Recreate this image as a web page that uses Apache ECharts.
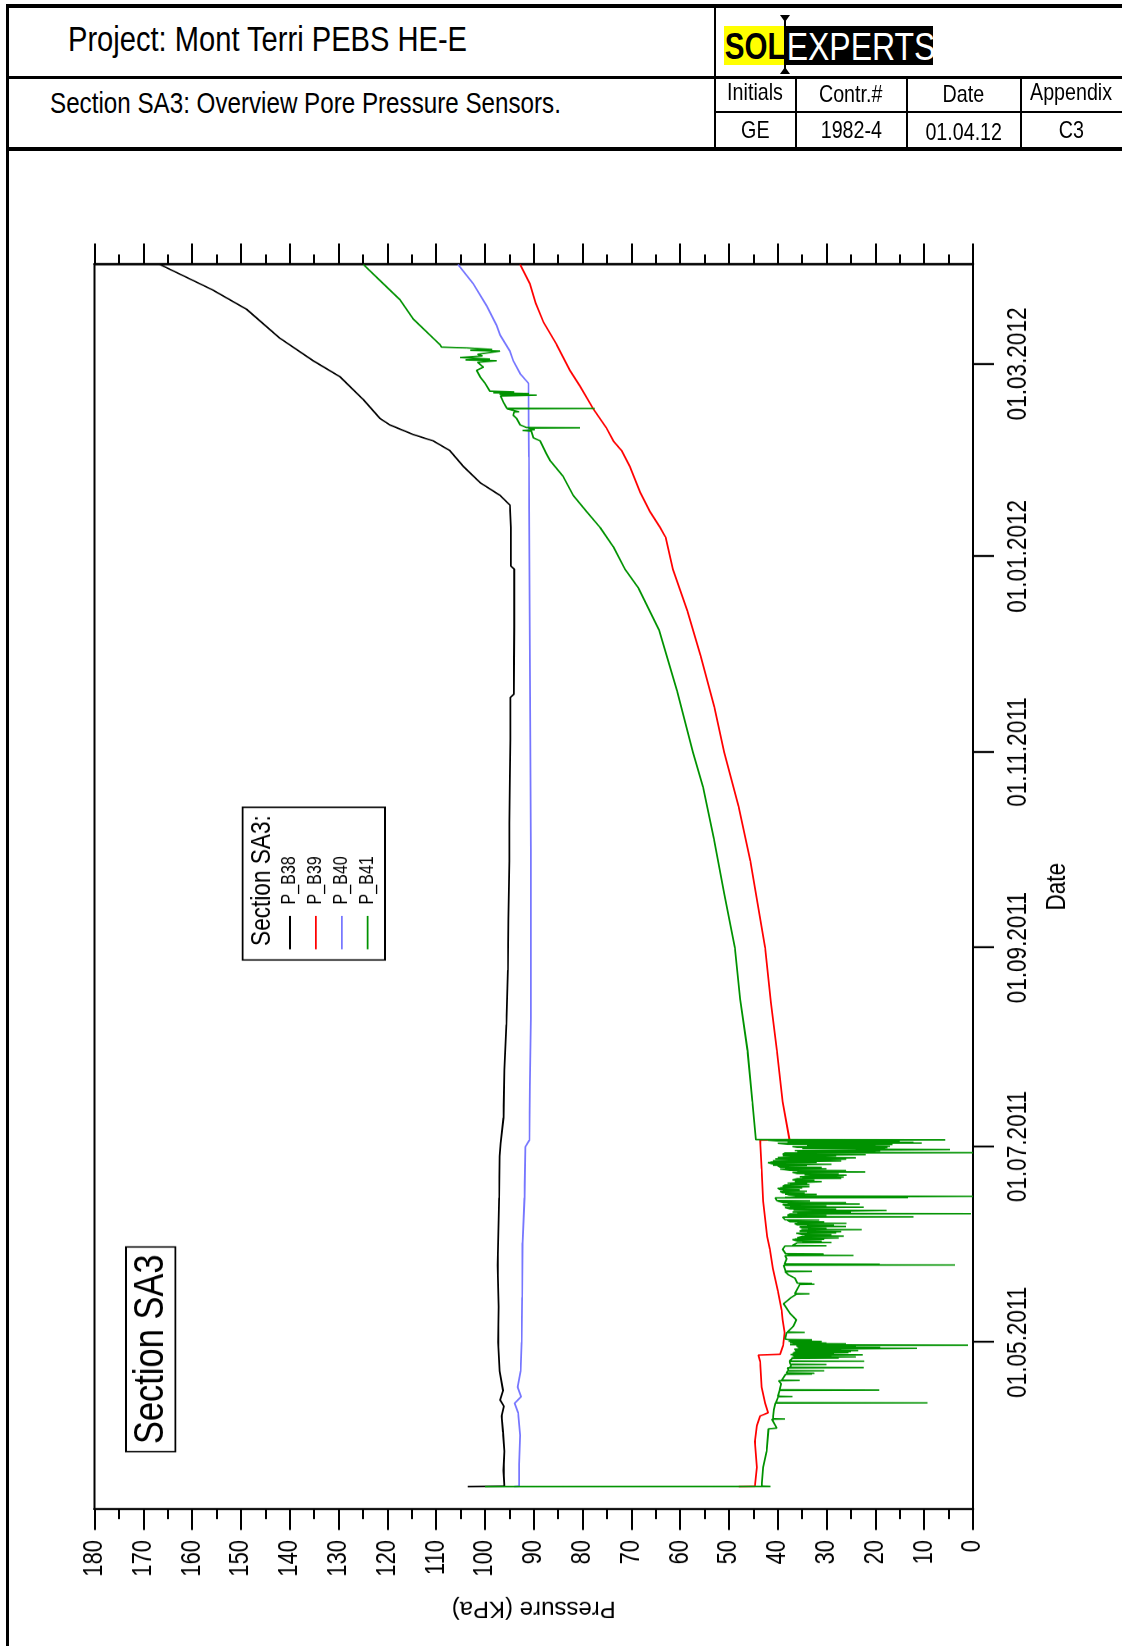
<!DOCTYPE html>
<html>
<head>
<meta charset="utf-8">
<title>Section SA3: Overview Pore Pressure Sensors</title>
<script src="https://cdn.jsdelivr.net/npm/echarts@6/dist/echarts.min.js"></script>
<style>
  html, body { margin: 0; padding: 0; width: 1122px; height: 1646px; overflow: hidden; background: #fff; }
  .hd { position: absolute; font-family: "Liberation Sans", Arial, sans-serif; color: #000; white-space: nowrap; }
  .nar { display: inline-block; transform: scaleX(0.82); transform-origin: 0 50%; }
  .ln { position: absolute; background: #000; }
  .cell { position: absolute; text-align: center; font-size: 24px; line-height: 30px; }
  .cell .nar { transform-origin: 50% 50%; }
  /* the plot is laid out landscape, squeezed along its date direction and turned onto the sheet */
  #chart { position: absolute; left: 0; top: 1646px; width: 1824px; height: 1122px;
           transform-origin: 0 0; transform: rotate(-90deg) scaleX(0.82018); }
  .logo { position: absolute; top: 26px; height: 39px; overflow: hidden; }
</style>
</head>
<body>
<div id="chart"></div>

<!-- title block -->
<div class="ln" style="left:6px;top:4px;width:1116px;height:4px"></div>
<div class="ln" style="left:6px;top:4px;width:3px;height:1642px"></div>
<div class="ln" style="left:6px;top:76px;width:1116px;height:2.5px"></div>
<div class="ln" style="left:714px;top:4px;width:2px;height:146px"></div>
<div class="ln" style="left:714px;top:111px;width:408px;height:1.5px"></div>
<div class="ln" style="left:795px;top:77px;width:1.5px;height:71px"></div>
<div class="ln" style="left:906px;top:77px;width:1.5px;height:71px"></div>
<div class="ln" style="left:1020px;top:77px;width:1.5px;height:71px"></div>
<div class="ln" style="left:6px;top:147px;width:1116px;height:4px"></div>

<div class="hd" style="left:68px;top:19px;font-size:35.5px;line-height:40px"><span class="nar">Project: Mont Terri PEBS HE-E</span></div>
<div class="hd" style="left:50px;top:86px;font-size:29.5px;line-height:34px"><span class="nar">Section SA3: Overview Pore Pressure Sensors.</span></div>

<div class="hd logo" style="left:724px;width:61px;background:#ffff00;font-weight:bold;font-size:36px;line-height:41px"><span class="nar" style="padding-left:1px">SOL</span></div>
<div class="hd logo" style="left:785px;width:148px;background:#000;color:#fff;font-size:39px;line-height:41px"><span class="nar" style="padding-left:2px">EXPERTS</span></div>
<div class="ln" style="left:784px;top:17px;width:2px;height:55px"></div>
<div style="position:absolute;left:780px;top:15px;width:0;height:0;border-left:5px solid transparent;border-right:5px solid transparent;border-top:7px solid #000"></div>
<div style="position:absolute;left:780px;top:67px;width:0;height:0;border-left:5px solid transparent;border-right:5px solid transparent;border-bottom:7px solid #000"></div>

<div class="hd cell" style="left:716px;width:79px;top:77px"><span class="nar">Initials</span></div>
<div class="hd cell" style="left:796px;width:110px;top:79px"><span class="nar">Contr.#</span></div>
<div class="hd cell" style="left:907px;width:113px;top:79px"><span class="nar">Date</span></div>
<div class="hd cell" style="left:1021px;width:101px;top:77px"><span class="nar">Appendix</span></div>
<div class="hd cell" style="left:716px;width:79px;top:115px"><span class="nar">GE</span></div>
<div class="hd cell" style="left:796px;width:110px;top:115px"><span class="nar">1982-4</span></div>
<div class="hd cell" style="left:907px;width:113px;top:117px"><span class="nar">01.04.12</span></div>
<div class="hd cell" style="left:1021px;width:101px;top:115px"><span class="nar">C3</span></div>

<script>
// Date axis tick positions (first day of every second month)
const dateTicks = ['2011-05-01', '2011-07-01', '2011-09-01', '2011-11-01', '2012-01-01', '2012-03-01'];
const dateRange = ['2011-03-10', '2012-04-01'];
const pressureRange = [0, 180];

const seriesNames = ['P_B38', 'P_B39', 'P_B40', 'P_B41'];
const seriesColors = ['#000000', '#ff0000', '#7777ff', '#009200'];

// P_B38 pore pressure [date, kPa]
const pB38 = [
  ['2011-03-17 00:00', 103.5], ['2011-03-17 03:00', 96.0], ['2011-03-22', 96.2], ['2011-03-28', 96.0],
  ['2011-04-03', 96.3], ['2011-04-08', 96.6], ['2011-04-11', 96.1], ['2011-04-13', 96.9],
  ['2011-04-16', 96.3], ['2011-04-22', 97.0], ['2011-05-01', 97.3], ['2011-05-12', 97.2],
  ['2011-05-25', 97.4], ['2011-06-01', 97.3], ['2011-06-15', 97.1], ['2011-06-28', 97.0],
  ['2011-07-02', 96.8], ['2011-07-10', 96.2], ['2011-07-25', 96.0], ['2011-08-08', 95.6],
  ['2011-08-25', 95.3], ['2011-09-10', 95.2], ['2011-09-28', 95.0], ['2011-10-10', 95.0],
  ['2011-10-24', 94.9], ['2011-11-05', 94.8], ['2011-11-18', 94.8], ['2011-11-19', 94.1],
  ['2011-12-10', 94.0], ['2011-12-28', 94.0], ['2011-12-29', 94.7], ['2012-01-10', 94.7],
  ['2012-01-17', 94.9], ['2012-01-20', 96.9], ['2012-01-24', 101.0], ['2012-01-29', 104.4],
  ['2012-02-03', 107.2], ['2012-02-06', 110.6], ['2012-02-08', 114.7], ['2012-02-11', 119.5],
  ['2012-02-13', 121.5], ['2012-02-19', 125.0], ['2012-02-26', 129.7], ['2012-03-02', 135.2],
  ['2012-03-09', 142.0], ['2012-03-18', 148.8], ['2012-03-24', 155.7], ['2012-03-29', 162.5],
  ['2012-04-01', 166.6]
];

// P_B39 pore pressure [date, kPa]
const pB39 = [
  ['2011-03-17 00:00', 48.0], ['2011-03-17 02:00', 44.7], ['2011-03-23', 44.3], ['2011-03-31', 44.7],
  ['2011-04-05', 44.3], ['2011-04-08', 43.6], ['2011-04-09', 42.0], ['2011-04-12', 42.6],
  ['2011-04-17', 43.3], ['2011-04-25', 43.6], ['2011-04-27 00:00', 44.0], ['2011-04-27 06:00', 39.5],
  ['2011-04-30', 38.9], ['2011-05-04', 38.6], ['2011-05-08', 39.0], ['2011-05-11', 39.2],
  ['2011-05-17', 40.0], ['2011-05-24', 41.0], ['2011-05-30', 41.6], ['2011-06-03', 42.2],
  ['2011-06-14', 43.0], ['2011-06-24', 43.3], ['2011-07-03 00:00', 43.6], ['2011-07-03 03:00', 37.6],
  ['2011-07-15', 39.0], ['2011-07-31', 40.2], ['2011-08-15', 41.4], ['2011-09-01', 42.6],
  ['2011-09-28', 45.6], ['2011-10-15', 48.0], ['2011-11-01', 51.0], ['2011-11-15', 53.0],
  ['2011-12-01', 55.8], ['2011-12-15', 58.5], ['2011-12-28', 61.5], ['2012-01-07', 63.0],
  ['2012-01-10', 64.1], ['2012-01-15', 66.2], ['2012-01-21', 68.2], ['2012-01-29', 70.3],
  ['2012-02-03', 72.0], ['2012-02-06', 73.7], ['2012-02-10', 75.1], ['2012-02-16', 77.8],
  ['2012-02-23', 80.5], ['2012-02-28', 82.6], ['2012-03-07', 85.3], ['2012-03-14', 88.0],
  ['2012-03-20', 89.6], ['2012-03-26', 90.8], ['2012-04-01', 92.8]
];

// P_B40 pore pressure [date, kPa]
const pB40 = [
  ['2011-03-17 00:00', 94.0], ['2011-03-17 03:00', 93.0], ['2011-03-24', 93.0], ['2011-04-02', 92.8],
  ['2011-04-09', 93.2], ['2011-04-12', 93.9], ['2011-04-14', 92.6], ['2011-04-17', 93.3],
  ['2011-04-22', 92.7], ['2011-05-01', 92.5], ['2011-05-15', 92.4], ['2011-06-01', 92.3],
  ['2011-06-15', 91.9], ['2011-07-01', 91.7], ['2011-07-03', 90.9], ['2011-07-20', 90.8],
  ['2011-08-10', 90.6], ['2011-09-01', 90.6], ['2011-10-01', 90.6], ['2011-11-01', 90.7],
  ['2011-12-01', 90.8], ['2012-01-01', 90.9], ['2012-02-01', 91.0], ['2012-02-24', 91.1],
  ['2012-02-27', 92.8], ['2012-03-02', 94.2], ['2012-03-05', 94.9], ['2012-03-10', 96.9],
  ['2012-03-13', 97.6], ['2012-03-19', 99.6], ['2012-03-26', 102.4], ['2012-04-01', 105.5]
];

// P_B41 pore pressure [date, kPa]; short-lived drops show up as horizontal strokes
const pB41 = [
  ['2011-03-17 00:00', 100.0], ['2011-03-17 01:00', 41.5], ['2011-03-17 03:00', 43.3], ['2011-03-23', 43.0],
  ['2011-03-28', 42.3], ['2011-04-04 00:00', 41.9], ['2011-04-04 06:00', 40.2], ['2011-04-07 00:00', 41.2],
  ['2011-04-07 02:00', 38.5], ['2011-04-07 04:00', 41.0], ['2011-04-10', 40.8], ['2011-04-12 00:00', 40.5],
  ['2011-04-12 02:00', 9.3], ['2011-04-12 04:00', 40.4], ['2011-04-14 00:00', 39.9], ['2011-04-14 02:00', 37.0],
  ['2011-04-14 04:00', 40.0], ['2011-04-16 00:00', 39.6], ['2011-04-16 02:00', 19.2], ['2011-04-16 04:00', 39.6],
  ['2011-04-18', 39.3], ['2011-04-19 00:00', 39.8], ['2011-04-19 02:00', 35.5], ['2011-04-19 04:00', 39.2],
  ['2011-04-21 00:00', 38.4], ['2011-04-21 02:00', 33.0], ['2011-04-21 04:00', 38.0], ['2011-04-21 08:00', 32.5],
  ['2011-04-21 10:00', 38.2], ['2011-04-22 00:00', 38.0], ['2011-04-22 02:00', 30.5], ['2011-04-22 04:00', 37.8],
  ['2011-04-23 00:00', 38.0], ['2011-04-23 02:00', 22.4], ['2011-04-23 04:00', 37.5], ['2011-04-24 00:00', 37.2],
  ['2011-04-24 02:00', 30.0], ['2011-04-24 04:00', 37.4], ['2011-04-25 00:00', 37.6], ['2011-04-25 02:00', 22.3],
  ['2011-04-25 04:00', 37.6],
  ['2011-04-26 00:00', 37.0], ['2011-04-26 02:00', 27.5], ['2011-04-26 04:00', 37.2], ['2011-04-26 10:00', 24.0],
  ['2011-04-26 12:00', 36.8], ['2011-04-26 18:00', 29.0], ['2011-04-26 20:00', 37.0],
  ['2011-04-27 00:00', 37.3], ['2011-04-27 02:00', 22.6], ['2011-04-27 04:00', 37.4], ['2011-04-27 10:00', 28.5],
  ['2011-04-27 12:00', 37.0], ['2011-04-27 18:00', 25.5], ['2011-04-27 20:00', 36.8],
  ['2011-04-28 00:00', 36.8], ['2011-04-28 02:00', 25.0], ['2011-04-28 04:00', 36.4], ['2011-04-28 10:00', 23.5],
  ['2011-04-28 12:00', 36.5], ['2011-04-28 18:00', 27.0], ['2011-04-28 20:00', 36.6],
  ['2011-04-29 00:00', 36.5], ['2011-04-29 02:00', 11.5], ['2011-04-29 04:00', 35.8], ['2011-04-29 10:00', 19.0],
  ['2011-04-29 12:00', 36.0], ['2011-04-29 18:00', 24.0], ['2011-04-29 20:00', 36.2],
  ['2011-04-30 00:00', 35.5], ['2011-04-30 02:00', 1.0], ['2011-04-30 04:00', 27.0], ['2011-04-30 06:00', 37.5],
  ['2011-04-30 12:00', 26.0], ['2011-04-30 14:00', 37.0], ['2011-04-30 18:00', 30.0], ['2011-04-30 20:00', 37.5],
  ['2011-05-01 06:00', 31.0], ['2011-05-01 08:00', 37.8], ['2011-05-01 18:00', 33.0], ['2011-05-01 20:00', 38.0],
  ['2011-05-02', 38.5],
  ['2011-05-04 00:00', 38.2], ['2011-05-04 02:00', 34.5], ['2011-05-04 04:00', 38.0], ['2011-05-06', 36.8],
  ['2011-05-08', 36.2], ['2011-05-10', 37.5], ['2011-05-13', 38.8], ['2011-05-15', 37.2],
  ['2011-05-16 00:00', 36.2], ['2011-05-16 02:00', 33.5], ['2011-05-16 04:00', 36.5], ['2011-05-19 00:00', 35.5],
  ['2011-05-19 02:00', 32.5], ['2011-05-19 04:00', 35.0], ['2011-05-19 08:00', 33.0], ['2011-05-19 10:00', 36.0],
  ['2011-05-21', 36.5], ['2011-05-22', 37.8], ['2011-05-23 00:00', 38.5], ['2011-05-23 02:00', 33.0],
  ['2011-05-23 04:00', 38.4], ['2011-05-25 00:00', 38.8], ['2011-05-25 02:00', 3.7], ['2011-05-25 04:00', 38.5],
  ['2011-05-25 08:00', 19.1], ['2011-05-25 10:00', 38.6], ['2011-05-27', 38.2], ['2011-05-28 00:00', 38.5],
  ['2011-05-28 02:00', 24.5], ['2011-05-28 04:00', 38.0], ['2011-05-28 12:00', 30.6], ['2011-05-28 14:00', 38.4],
  ['2011-05-30', 39.0], ['2011-05-31 00:00', 38.5], ['2011-05-31 02:00', 30.0], ['2011-05-31 04:00', 37.0],
  ['2011-06-01 00:00', 36.0], ['2011-06-01 02:00', 29.0], ['2011-06-01 04:00', 35.0], ['2011-06-01 12:00', 31.0],
  ['2011-06-01 14:00', 36.0],
  ['2011-06-02 00:00', 37.0], ['2011-06-02 02:00', 30.5], ['2011-06-02 04:00', 36.5], ['2011-06-02 12:00', 27.5],
  ['2011-06-02 14:00', 36.0],
  ['2011-06-03 00:00', 35.0], ['2011-06-03 02:00', 26.5], ['2011-06-03 04:00', 34.5], ['2011-06-03 12:00', 29.0],
  ['2011-06-03 14:00', 35.0],
  ['2011-06-04 00:00', 36.2], ['2011-06-04 02:00', 28.0], ['2011-06-04 04:00', 34.0], ['2011-06-04 12:00', 27.0],
  ['2011-06-04 14:00', 35.5],
  ['2011-06-05 00:00', 35.0], ['2011-06-05 02:00', 22.8], ['2011-06-05 04:00', 33.8], ['2011-06-05 12:00', 30.0],
  ['2011-06-05 14:00', 35.0],
  ['2011-06-06 00:00', 35.5], ['2011-06-06 02:00', 26.0], ['2011-06-06 04:00', 34.0], ['2011-06-06 12:00', 28.5],
  ['2011-06-06 14:00', 36.0],
  ['2011-06-07 00:00', 36.5], ['2011-06-07 02:00', 25.9], ['2011-06-07 04:00', 36.0], ['2011-06-07 12:00', 30.5],
  ['2011-06-07 14:00', 37.5],
  ['2011-06-08 00:00', 38.0], ['2011-06-08 02:00', 31.5], ['2011-06-08 04:00', 38.5],
  ['2011-06-09 00:00', 39.0], ['2011-06-09 02:00', 12.2], ['2011-06-09 04:00', 38.0], ['2011-06-09 12:00', 30.0],
  ['2011-06-09 14:00', 38.0],
  ['2011-06-10 00:00', 37.5], ['2011-06-10 02:00', 0.4], ['2011-06-10 04:00', 36.0], ['2011-06-10 12:00', 25.0],
  ['2011-06-10 14:00', 37.0],
  ['2011-06-11 00:00', 37.0], ['2011-06-11 02:00', 17.7], ['2011-06-11 04:00', 36.8], ['2011-06-11 12:00', 28.0],
  ['2011-06-11 14:00', 37.5],
  ['2011-06-12 00:00', 38.5], ['2011-06-12 02:00', 22.4], ['2011-06-12 04:00', 37.5], ['2011-06-12 12:00', 30.0],
  ['2011-06-12 14:00', 38.5],
  ['2011-06-13 00:00', 39.0], ['2011-06-13 02:00', 23.2], ['2011-06-13 04:00', 38.0], ['2011-06-13 12:00', 26.0],
  ['2011-06-13 14:00', 39.0],
  ['2011-06-14 00:00', 40.0], ['2011-06-14 02:00', 33.4], ['2011-06-14 04:00', 40.2],
  ['2011-06-15 00:00', 40.5], ['2011-06-15 02:00', 13.3], ['2011-06-15 04:00', 38.5], ['2011-06-15 12:00', 0.0],
  ['2011-06-15 14:00', 36.0],
  ['2011-06-16 00:00', 38.0], ['2011-06-16 02:00', 32.0], ['2011-06-16 04:00', 38.5], ['2011-06-16 12:00', 34.5],
  ['2011-06-16 14:00', 39.0],
  ['2011-06-17 00:00', 39.5], ['2011-06-17 02:00', 34.0], ['2011-06-17 04:00', 39.0], ['2011-06-17 12:00', 35.5],
  ['2011-06-17 14:00', 39.5],
  ['2011-06-18 00:00', 40.0], ['2011-06-18 02:00', 35.0], ['2011-06-18 04:00', 39.5], ['2011-06-18 12:00', 33.5],
  ['2011-06-18 14:00', 39.0],
  ['2011-06-19 00:00', 38.5], ['2011-06-19 02:00', 33.5], ['2011-06-19 04:00', 37.5], ['2011-06-19 12:00', 34.0],
  ['2011-06-19 14:00', 38.0],
  ['2011-06-20 00:00', 38.0], ['2011-06-20 02:00', 31.0], ['2011-06-20 04:00', 36.5], ['2011-06-20 12:00', 32.5],
  ['2011-06-20 14:00', 37.0],
  ['2011-06-21 00:00', 36.0], ['2011-06-21 02:00', 27.0], ['2011-06-21 04:00', 35.0], ['2011-06-21 12:00', 26.5],
  ['2011-06-21 14:00', 35.5],
  ['2011-06-22 00:00', 35.5], ['2011-06-22 02:00', 25.9], ['2011-06-22 04:00', 34.5], ['2011-06-22 12:00', 27.5],
  ['2011-06-22 14:00', 36.0],
  ['2011-06-23 00:00', 37.0], ['2011-06-23 02:00', 22.1], ['2011-06-23 04:00', 36.0], ['2011-06-23 12:00', 26.0],
  ['2011-06-23 14:00', 37.5],
  ['2011-06-24 00:00', 39.5], ['2011-06-24 02:00', 30.0], ['2011-06-24 04:00', 38.5], ['2011-06-24 12:00', 31.0],
  ['2011-06-24 14:00', 39.5],
  ['2011-06-25 00:00', 40.0], ['2011-06-25 02:00', 34.0], ['2011-06-25 04:00', 41.0], ['2011-06-25 12:00', 29.0],
  ['2011-06-25 14:00', 41.0],
  ['2011-06-26 00:00', 42.0], ['2011-06-26 02:00', 32.0], ['2011-06-26 04:00', 41.5], ['2011-06-26 12:00', 27.0],
  ['2011-06-26 14:00', 41.0],
  ['2011-06-27 00:00', 41.0], ['2011-06-27 02:00', 26.0], ['2011-06-27 04:00', 40.5], ['2011-06-27 12:00', 24.0],
  ['2011-06-27 14:00', 40.0],
  ['2011-06-28 00:00', 40.0], ['2011-06-28 02:00', 28.0], ['2011-06-28 04:00', 39.0], ['2011-06-28 12:00', 22.0],
  ['2011-06-28 14:00', 39.0],
  ['2011-06-29 00:00', 38.5], ['2011-06-29 02:00', 0.0], ['2011-06-29 04:00', 30.0], ['2011-06-29 08:00', 20.0],
  ['2011-06-29 10:00', 36.0], ['2011-06-29 16:00', 19.0], ['2011-06-29 18:00', 36.5],
  ['2011-06-30 00:00', 36.5], ['2011-06-30 02:00', 4.7], ['2011-06-30 04:00', 24.0], ['2011-06-30 08:00', 18.0],
  ['2011-06-30 10:00', 35.0], ['2011-06-30 16:00', 17.5], ['2011-06-30 18:00', 36.0],
  ['2011-07-01 00:00', 37.0], ['2011-07-01 02:00', 17.0], ['2011-07-01 04:00', 30.0], ['2011-07-01 08:00', 20.0],
  ['2011-07-01 10:00', 34.0], ['2011-07-01 16:00', 16.5], ['2011-07-01 18:00', 38.0],
  ['2011-07-02 00:00', 40.0], ['2011-07-02 02:00', 10.5], ['2011-07-02 04:00', 36.0], ['2011-07-02 08:00', 12.2],
  ['2011-07-02 10:00', 38.0], ['2011-07-02 16:00', 15.0], ['2011-07-02 18:00', 40.0],
  ['2011-07-03 00:00', 42.0], ['2011-07-03 02:00', 5.7],
  ['2011-07-03 04:00', 44.5], ['2011-07-15', 45.2], ['2011-07-31', 46.2], ['2011-08-16', 47.7],
  ['2011-09-01', 48.8], ['2011-09-18', 51.0], ['2011-10-05', 53.1], ['2011-10-21', 55.3],
  ['2011-11-01', 57.4], ['2011-11-20', 60.6], ['2011-12-09', 64.3], ['2011-12-22', 68.5],
  ['2011-12-28', 71.3], ['2012-01-04', 73.7], ['2012-01-10', 76.4], ['2012-01-15', 79.2],
  ['2012-01-20', 81.9], ['2012-01-26', 84.0], ['2012-01-31', 86.7], ['2012-02-02', 87.4],
  ['2012-02-06', 88.7], ['2012-02-07', 90.1], ['2012-02-09 00:00', 90.5], ['2012-02-09 06:00', 92.3],
  ['2012-02-09 12:00', 89.8], ['2012-02-10 00:00', 91.0], ['2012-02-10 02:00', 80.5], ['2012-02-10 04:00', 91.5],
  ['2012-02-11', 92.8], ['2012-02-13', 93.5], ['2012-02-14', 94.2], ['2012-02-15 00:00', 94.0],
  ['2012-02-15 02:00', 93.0], ['2012-02-16 00:00', 95.5], ['2012-02-16 02:00', 77.5], ['2012-02-16 04:00', 95.5],
  ['2012-02-18', 96.2], ['2012-02-20 00:00', 96.8], ['2012-02-20 06:00', 89.4], ['2012-02-20 12:00', 97.0],
  ['2012-02-20 18:00', 91.0], ['2012-02-21 00:00', 98.3], ['2012-02-21 06:00', 94.0], ['2012-02-21 12:00', 99.0],
  ['2012-02-24', 100.0], ['2012-02-26', 101.0], ['2012-02-28', 101.7], ['2012-02-29', 100.3],
  ['2012-03-01 12:00', 101.5], ['2012-03-02 00:00', 97.6], ['2012-03-02 06:00', 104.0], ['2012-03-02 12:00', 99.0],
  ['2012-03-03 00:00', 105.1], ['2012-03-03 12:00', 100.5], ['2012-03-04', 101.5], ['2012-03-05 00:00', 96.9],
  ['2012-03-05 06:00', 103.0], ['2012-03-05 12:00', 98.5], ['2012-03-06 00:00', 103.7], ['2012-03-06 06:00', 108.9],
  ['2012-03-07', 109.2], ['2012-03-08', 109.9], ['2012-03-15', 114.7], ['2012-03-21', 117.4],
  ['2012-03-27', 121.5], ['2012-04-01', 124.9]
];

const seriesData = [pB38, pB39, pB40, pB41];

const FONT = '"Liberation Sans", Arial, sans-serif';
const SQUEEZE = 0.82018;   // scaleX applied to #chart (date direction)

// 'YYYY-MM-DD' or 'YYYY-MM-DD HH:mm' -> local timestamp
function toTime(s) {
  const [day, clock] = s.split(' ');
  const [y, m, d] = day.split('-').map(Number);
  const [hh, mm] = clock ? clock.split(':').map(Number) : [0, 0];
  return new Date(y, m - 1, d, hh, mm).getTime();
}
function fmtDate(v) {
  const d = new Date(v);
  const p = n => String(n).padStart(2, '0');
  return p(d.getDate()) + '.' + p(d.getMonth() + 1) + '.' + d.getFullYear();
}

const tickTimes = dateTicks.map(toTime);
const axisColor = '#000';

const pressureAxisBase = {
  type: 'value',
  min: pressureRange[0],
  max: pressureRange[1],
  interval: 10,
  axisLine: { show: true, lineStyle: { color: axisColor, width: 2.4 } },
  axisTick: { show: true, inside: false, length: 25.6, lineStyle: { color: axisColor, width: 2 } },
  minorTick: { show: true, splitNumber: 2, length: 12.2, lineStyle: { color: axisColor, width: 2 } },
  splitLine: { show: false },
  minorSplitLine: { show: false }
};

const chart = echarts.init(document.getElementById('chart'), null, { renderer: 'canvas' });

chart.setOption({
  animation: false,
  backgroundColor: 'transparent',
  textStyle: { fontFamily: FONT, color: '#000' },
  grid: {
    left: 167, right: 139.6, top: 94.5, bottom: 149,
    show: true, borderColor: axisColor, borderWidth: 2, backgroundColor: 'transparent'
  },
  legend: {
    orient: 'vertical',
    left: 848.6, top: 280,
    padding: 0,
    itemWidth: 40.6, itemHeight: 20, itemGap: 5.9,
    itemStyle: { opacity: 0 },
    lineStyle: { width: 1.8 },
    textStyle: { fontSize: 19.6, lineHeight: 20, fontFamily: FONT, color: '#000', padding: [0, 0, 0, 9] },
    data: seriesNames
  },
  xAxis: {
    type: 'value',
    min: toTime(dateRange[0]),
    max: toTime(dateRange[1]),
    position: 'bottom',
    name: 'Date',
    nameLocation: 'middle',
    nameGap: 70,
    nameTextStyle: { fontSize: 27.5, fontFamily: FONT, color: '#000' },
    axisLine: { show: true, lineStyle: { color: axisColor, width: 2 } },
    axisTick: { show: true, length: 21, lineStyle: { color: axisColor, width: 2.4 }, customValues: tickTimes },
    axisLabel: { customValues: tickTimes, formatter: v => fmtDate(v), fontSize: 27.5, fontFamily: FONT, color: '#000', margin: 31 },
    splitLine: { show: false }
  },
  yAxis: [
    Object.assign({}, pressureAxisBase, {
      position: 'left',
      axisLabel: { show: true, fontSize: 26.8, fontFamily: FONT, color: '#000', margin: 37.8 }
    }),
    Object.assign({}, pressureAxisBase, {
      position: 'right',
      axisLabel: { show: false }
    })
  ],
  graphic: [
    // pressure axis title (kept at normal proportions against the squeeze)
    { type: 'text', z: 5, x: 46.3, y: 533.75, rotation: Math.PI / 2, scaleY: 1 / SQUEEZE,
      style: { text: 'Pressure (KPa)', fontSize: 24, fontFamily: FONT, fill: '#000', align: 'center', verticalAlign: 'middle' } },
    // legend frame and heading
    { type: 'rect', z: 1, shape: { x: 836.4, y: 242.7, width: 186.2, height: 142.3 },
      style: { fill: '#fff', stroke: '#000', lineWidth: 1.8 } },
    { type: 'text', z: 5, x: 853.5, y: 262,
      style: { text: 'Section SA3:', fontSize: 27.6, fontFamily: FONT, fill: '#000', verticalAlign: 'middle' } },
    // section badge
    { type: 'rect', z: 1, shape: { x: 237, y: 126, width: 249.5, height: 49.3 },
      style: { fill: '#fff', stroke: '#000', lineWidth: 1.8 } },
    { type: 'text', z: 5, x: 361.8, y: 151,
      style: { text: 'Section SA3', fontSize: 42, fontFamily: FONT, fill: '#000', align: 'center', verticalAlign: 'middle' } }
  ],
  series: seriesNames.map((name, i) => ({
    name,
    type: 'line',
    yAxisIndex: 0,
    data: seriesData[i].map(([t, v]) => [toTime(t), v]),
    showSymbol: false,
    symbol: 'none',
    lineStyle: { color: seriesColors[i], width: 1.8 },
    itemStyle: { color: seriesColors[i] },
    z: 2 + i
  }))
});
</script>
</body>
</html>
